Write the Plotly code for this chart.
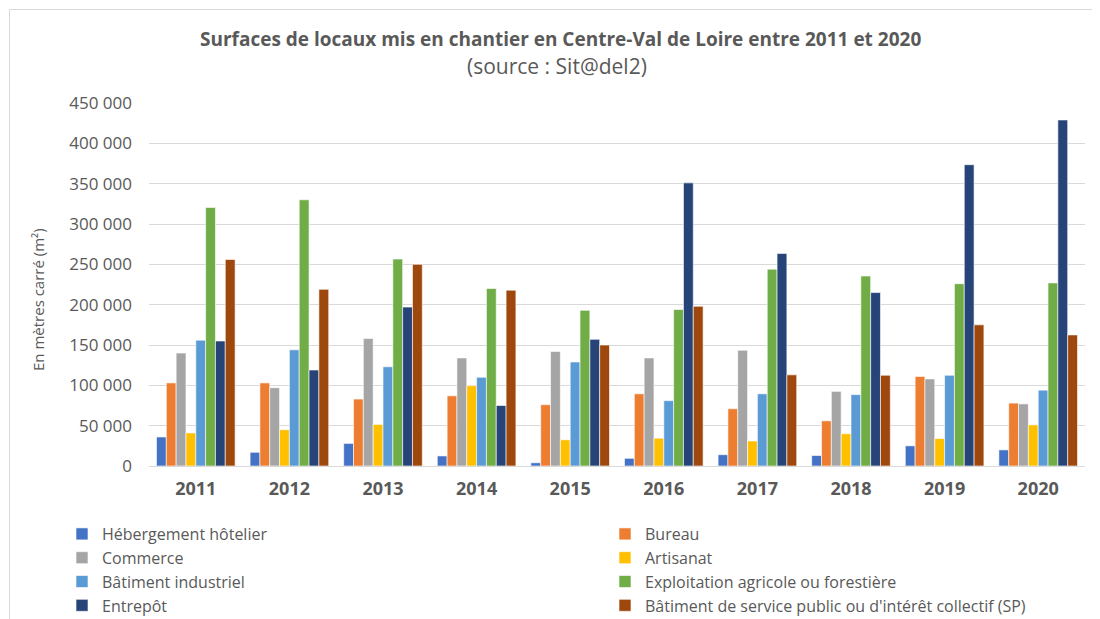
import plotly.graph_objects as go

years = ["2011", "2012", "2013", "2014", "2015", "2016", "2017", "2018", "2019", "2020"]

hebergement = [36000, 17000, 28000, 12500, 4000, 9500, 14000, 13000, 25000, 20000]
bureau = [103000, 103000, 83000, 87000, 76000, 89500, 71000, 56000, 111000, 78000]
commerce = [140000, 97000, 158000, 134000, 142000, 134000, 143500, 92500, 108000, 77000]
artisanat = [41000, 45000, 51500, 99500, 32500, 34500, 31000, 40000, 34000, 51000]
batiment_industriel = [156000, 144000, 123000, 110000, 129000, 81000, 89500, 88500, 112500, 94000]
exploitation = [320500, 330000, 256500, 220000, 193000, 194000, 244000, 235500, 226000, 227000]
entrepot = [155000, 119000, 197000, 75000, 157000, 351000, 263500, 215000, 373500, 429000]
service_public = [256000, 219000, 250000, 218000, 150000, 198000, 113000, 112500, 175000, 162500]

series_names = [
    "Hébergement hôtelier", "Bureau", "Commerce", "Artisanat",
    "Bâtiment industriel", "Exploitation agricole ou forestière",
    "Entrepôt", "Bâtiment de service public ou d'intérêt collectif (SP)",
]
series_values = [hebergement, bureau, commerce, artisanat,
                 batiment_industriel, exploitation, entrepot, service_public]
colors = ["#4472C4", "#ED7D31", "#A5A5A5", "#FFC000",
          "#5B9BD5", "#70AD47", "#264478", "#9E480E"]

FONT = "Open Sans"
GREY = "#595959"

fig = go.Figure()
for i, (name, vals, col) in enumerate(zip(series_names, series_values, colors)):
    fig.add_trace(go.Bar(
        x=years, y=vals, name=name,
        legend="legend" if i % 2 == 0 else "legend2",
        marker=dict(color=col, line=dict(color="white", width=0.6)),
    ))

# page body has an 8px margin: compensate
OFF = 8
W, H = 1100 - OFF, 619 - OFF
# target plot area in screen pixels: x 149..1085, y 103..466
L = 149 - OFF
T = 103 - OFF
R = W - (1085 - OFF)
B = H - (466 - OFF)
pw, ph = W - L - R, H - T - B

def px(x):
    return (x - OFF - L) / pw

def py(y):
    return (H - B - (y - OFF)) / ph

legend_style = dict(
    orientation="v", yanchor="top", xanchor="left",
    font=dict(family=FONT, size=16, color=GREY),
    itemwidth=30, tracegroupgap=0, traceorder="normal",
    bgcolor="rgba(0,0,0,0)",
)

fig.update_layout(
    width=W, height=H,
    margin=dict(l=L, r=R, t=T, b=B, autoexpand=False),
    paper_bgcolor="white", plot_bgcolor="white",
    barmode="group", bargap=0.16, bargroupgap=0,
    separators=", ",
    font=dict(family=FONT, color=GREY, size=16),
    showlegend=True,
    legend=dict(x=px(62), y=py(517), **legend_style),
    legend2=dict(x=px(605), y=py(517), **legend_style),
    xaxis=dict(
        showgrid=False, showline=True, linecolor="#D9D9D9", linewidth=1,
        ticks="", tickfont=dict(family=FONT, size=18, color=GREY, weight="bold"),
        ticklabelstandoff=6,
    ),
    yaxis=dict(
        range=[0, 450000], dtick=50000, tickformat=",d",
        showgrid=True, gridcolor="#D9D9D9", gridwidth=1,
        zeroline=False, showline=False, ticks="",
        tickfont=dict(family=FONT, size=17, color=GREY),
        ticklabelstandoff=16,
    ),
    annotations=[
        dict(text="<b>Surfaces de locaux mis en chantier en Centre-Val de Loire entre 2011 et 2020</b>",
             xref="paper", yref="paper", x=px(560), y=py(39), xanchor="center", yanchor="middle",
             showarrow=False, font=dict(family=FONT, size=19, color=GREY)),
        dict(text="(source : Sit@del2)",
             xref="paper", yref="paper", x=px(557), y=py(66), xanchor="center", yanchor="middle",
             showarrow=False, font=dict(family=FONT, size=21, color=GREY)),
        dict(text="En mètres carré (m²)",
             xref="paper", yref="paper", x=px(38), y=py(300), xanchor="center", yanchor="middle",
             textangle=-90, showarrow=False, font=dict(family=FONT, size=15, color=GREY)),
    ],
    shapes=[
        dict(type="rect", xref="paper", yref="paper",
             x0=px(9.5), x1=px(1110), y0=py(630), y1=py(9.5),
             line=dict(color="#D9D9D9", width=1), fillcolor="rgba(0,0,0,0)", layer="below"),
    ],
)

fig.write_html("out.html")
